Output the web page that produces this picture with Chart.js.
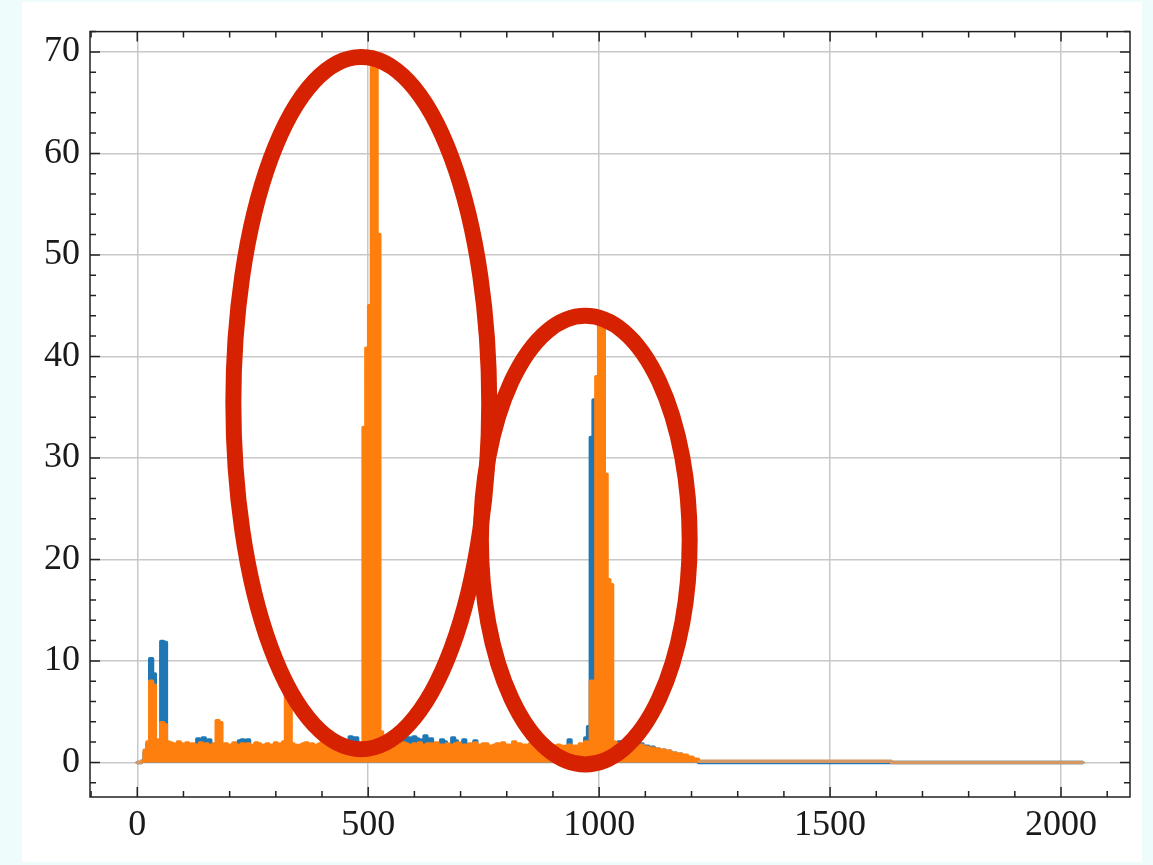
<!DOCTYPE html>
<html>
<head>
<meta charset="utf-8">
<script src="https://cdn.jsdelivr.net/npm/chart.js@4"></script>
<style>
  html, body { margin: 0; padding: 0; background: #effcfc; }
  canvas { display: block; }
</style>
</head>
<body>
<canvas id="traceChart" width="1153" height="865"></canvas>
<script>
// sample index: every 6th sample up to 1218, then the flat tail end
// values are the upper envelope of the (very dense) traces
const sampleStep = 6;
const sampleCount = 204;
const lastSample = 2047;

const blueVals = [
  0, 0, 0.1, 1.0, 1.8, 10.2, 8.7, 2.0, 2.0, 11.9,
  11.8, 1.8, 1.8, 1.6, 1.6, 1.5, 1.7, 1.5, 1.5, 1.4,
  1.6, 1.5, 2.3, 2.2, 2.4, 2.1, 2.2, 1.6, 1.7, 1.2,
  1.5, 1.5, 1.6, 1.4, 1.5, 1.6, 1.7, 2.1, 2.2, 1.6,
  2.2, 1.5, 1.5, 1.6, 1.6, 1.4, 1.5, 1.6, 1.4, 1.5,
  1.6, 1.5, 1.5, 1.6, 2.0, 1.8, 1.6, 1.6, 1.5, 1.5,
  1.6, 1.6, 1.5, 1.7, 1.5, 1.5, 1.6, 2.3, 2.1, 2.2,
  1.5, 1.5, 1.6, 1.7, 1.5, 1.4, 1.6, 2.5, 2.4, 2.4,
  1.5, 1.5, 1.6, 1.6, 1.8, 1.7, 1.7, 1.6, 1.5, 1.5,
  1.6, 1.5, 1.7, 1.6, 1.6, 1.7, 2.3, 2.2, 2.4, 1.6,
  2.5, 2.3, 2.2, 1.7, 2.6, 2.2, 2.3, 1.7, 1.7, 1.6,
  2.2, 2.0, 1.6, 1.7, 2.4, 2.1, 1.7, 1.6, 2.2, 1.6,
  1.6, 1.6, 2.1, 1.5, 1.5, 1.6, 1.6, 1.5, 1.4, 1.5,
  1.6, 1.5, 1.7, 1.6, 1.5, 1.5, 1.8, 1.6, 1.6, 1.5,
  1.5, 1.5, 1.6, 1.4, 1.4, 1.5, 1.5, 1.4, 1.6, 1.5,
  1.4, 1.4, 1.5, 1.5, 1.3, 1.4, 2.2, 1.4, 1.4, 1.4,
  1.6, 1.7, 2.4, 3.5, 32.0, 35.7, 35.5, 1.5, 1.5, 1.5,
  1.5, 1.5, 1.6, 1.7, 2.0, 1.9, 2.1, 1.8, 1.9, 1.7,
  2.0, 1.7, 1.8, 1.5, 1.6, 1.4, 1.5, 1.3, 1.3, 1.1,
  1.2, 1.0, 1.1, 0.8, 0.9, 0.7, 0.8, 0.5, 0.6, 0.4,
  0.4, 0.2, 0.2, 0.0,
  0
];

const orangeVals = [
  0, 0, 0.1, 1.2, 2.0, 8.0, 7.6, 2.0, 2.2, 3.9,
  3.7, 2.0, 1.9, 1.8, 1.7, 2.0, 1.8, 1.7, 1.9, 1.6,
  1.8, 1.7, 1.6, 1.9, 1.7, 1.8, 1.6, 1.7, 1.8, 4.1,
  3.9, 1.7, 1.8, 1.6, 1.7, 1.9, 1.7, 1.6, 1.8, 1.7,
  1.8, 1.6, 1.7, 1.9, 1.8, 1.6, 1.7, 1.8, 1.6, 1.7,
  1.9, 1.7, 1.8, 2.0, 8.2, 8.0, 1.8, 1.7, 1.6, 1.7,
  1.8, 1.9, 1.7, 1.8, 1.6, 1.7, 1.8, 2.0, 1.7, 1.8,
  1.6, 1.7, 1.8, 1.9, 1.6, 1.7, 1.5, 1.8, 1.6, 1.5,
  1.6, 1.7, 33.0, 40.8, 45.0, 70.0, 69.5, 52.0, 3.0, 1.7,
  1.9, 1.6, 1.7, 1.8, 1.6, 1.7, 1.9, 1.8, 1.7, 1.6,
  1.8, 1.7, 1.9, 1.6, 1.7, 1.8, 1.8, 1.6, 1.9, 1.7,
  1.7, 1.6, 1.8, 1.7, 1.6, 1.8, 1.9, 1.7, 1.7, 1.6,
  1.8, 1.7, 1.9, 1.6, 1.7, 1.8, 1.8, 1.6, 1.6, 1.7,
  1.8, 1.6, 1.9, 1.7, 1.7, 1.6, 2.0, 1.8, 1.8, 1.6,
  1.7, 1.6, 1.8, 1.5, 1.6, 1.7, 1.7, 1.5, 1.8, 1.6,
  1.6, 1.5, 1.7, 1.6, 1.5, 1.6, 1.7, 1.5, 1.6, 1.5,
  1.8, 1.6, 2.0, 1.8, 8.0, 7.5, 38.0, 43.0, 43.0, 28.4,
  18.0, 17.5, 2.0, 1.8, 1.8, 1.7, 1.7, 1.6, 1.8, 1.5,
  1.6, 1.5, 1.7, 1.4, 1.5, 1.3, 1.4, 1.2, 1.3, 1.1,
  1.2, 1.0, 1.1, 0.9, 0.9, 0.8, 0.8, 0.6, 0.7, 0.5,
  0.5, 0.3, 0.3, 0.1,
  0
];

const xTicks = [0, 500, 1000, 1500, 2000];
const yTicks = [0, 10, 20, 30, 40, 50, 60, 70];

// hand-drawn red ellipses (centre and radii in data units)
const marks = [
  { x: 485, y: 35.4, rx: 277, ry: 34.1 },
  { x: 970, y: 21.9, rx: 226, ry: 22.1 }
];

const sampleX = [];
for (let i = 0; i < sampleCount; i++) sampleX.push(i * sampleStep);
sampleX.push(lastSample);

const toPoints = vals => vals.map((v, i) => ({ x: sampleX[i], y: v }));

const xRange = { min: -102.35, max: 2149.35 };
const yRange = { min: -3.41, max: 72.0 };

const tailColor = 'rgb(212,152,102)';
const flatEdge = ctx => (ctx.p0.parsed.x >= 1215 || ctx.p1.parsed.x <= 12) ? tailColor : undefined;

const tickFont = { family: "'Liberation Serif', 'DejaVu Serif', serif", size: 36 };

const frame = {
  id: 'frame',
  beforeDraw(chart) {
    const c = chart.ctx;
    c.save();
    c.fillStyle = '#ffffff';
    c.fillRect(22, 2, 1120, 860);
    c.restore();
  },
  afterDatasetsDraw(chart) {
    const c = chart.ctx, a = chart.chartArea;
    const xs = chart.scales.x, ys = chart.scales.y;
    c.save();
    c.strokeStyle = '#222';
    c.lineWidth = 1.5;
    c.strokeRect(a.left, a.top, a.right - a.left, a.bottom - a.top);
    c.beginPath();
    for (let v = -100; v <= xs.max; v += 100) {
      const px = xs.getPixelForValue(v);
      if (px < a.left || px > a.right) continue;
      const len = v % 500 === 0 ? 10 : 6;
      c.moveTo(px, a.bottom); c.lineTo(px, a.bottom - len);
      c.moveTo(px, a.top); c.lineTo(px, a.top + len);
    }
    for (let v = -2; v <= ys.max; v += 2) {
      const py = ys.getPixelForValue(v);
      if (py < a.top - 0.5 || py > a.bottom) continue;
      const len = v % 10 === 0 ? 10 : 6;
      c.moveTo(a.left, py); c.lineTo(a.left + len, py);
      c.moveTo(a.right, py); c.lineTo(a.right - len, py);
    }
    c.stroke();
    c.restore();
  },
  afterDraw(chart) {
    const c = chart.ctx;
    const xs = chart.scales.x, ys = chart.scales.y;
    c.save();
    c.strokeStyle = '#d62200';
    c.lineWidth = 16;
    marks.forEach(m => {
      const cx = xs.getPixelForValue(m.x), cy = ys.getPixelForValue(m.y);
      const rx = Math.abs(xs.getPixelForValue(m.x + m.rx) - cx);
      const ry = Math.abs(ys.getPixelForValue(m.y + m.ry) - cy);
      c.beginPath();
      c.ellipse(cx, cy, rx, ry, 0, 0, Math.PI * 2);
      c.stroke();
    });
    c.restore();
  }
};

new Chart(document.getElementById('traceChart'), {
  type: 'line',
  data: {
    datasets: [
      {
        label: 'orange', data: toPoints(orangeVals), order: 1,
        borderColor: '#ff7f0e', backgroundColor: '#ff7f0e', fill: 'origin',
        borderWidth: 3.5, borderJoinStyle: 'round', borderCapStyle: 'round', stepped: 'middle',
        pointRadius: 0, segment: { borderColor: flatEdge }
      },
      {
        label: 'blue', data: toPoints(blueVals), order: 2,
        borderColor: '#1f77b4', backgroundColor: '#1f77b4', fill: 'origin',
        borderWidth: 3.5, borderJoinStyle: 'round', borderCapStyle: 'round', stepped: 'middle',
        pointRadius: 0
      }
    ]
  },
  options: {
    responsive: false,
    animation: false,
    parsing: false,
    layout: { padding: { top: 22, right: 23, left: 0, bottom: 0 } },
    plugins: { legend: { display: false }, tooltip: { enabled: false } },
    scales: {
      x: {
        type: 'linear', min: xRange.min, max: xRange.max,
        afterFit: s => { s.height = 68; },
        afterBuildTicks: s => { s.ticks = xTicks.map(v => ({ value: v })); },
        ticks: { font: tickFont, color: '#1a1a1a', padding: 7, maxRotation: 0, callback: v => String(v) },
        grid: { color: '#c8c8c8', lineWidth: 1.5, drawTicks: false },
        border: { display: false }
      },
      y: {
        type: 'linear', min: yRange.min, max: yRange.max,
        afterFit: s => { s.width = 90; },
        afterBuildTicks: s => { s.ticks = yTicks.map(v => ({ value: v })); },
        ticks: { font: tickFont, color: '#1a1a1a', padding: 10, callback: v => String(v) },
        grid: { color: '#c8c8c8', lineWidth: 1.5, drawTicks: false },
        border: { display: false }
      }
    }
  },
  plugins: [frame]
});
</script>
</body>
</html>
